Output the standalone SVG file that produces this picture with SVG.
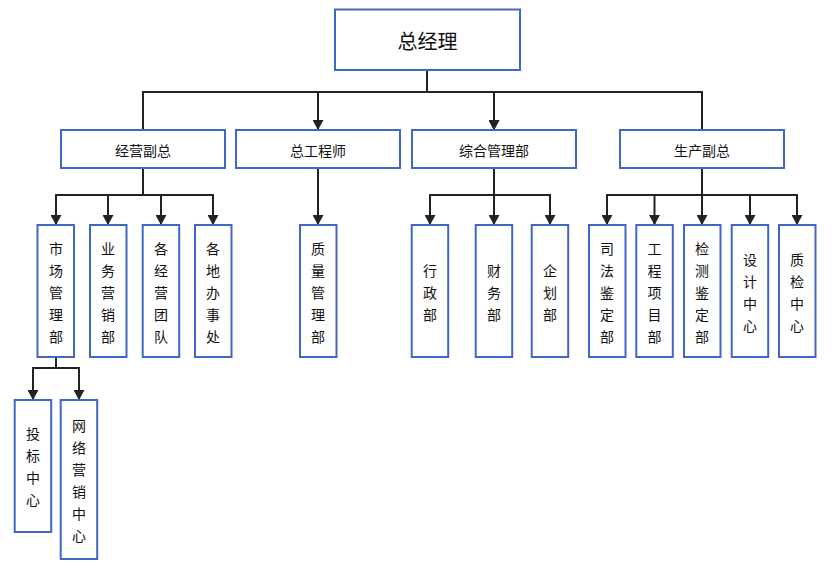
<svg xmlns="http://www.w3.org/2000/svg" width="838" height="570" viewBox="0 0 838 570">
<style>
.box{fill:#fff;stroke:#4167c4;stroke-width:2}
.t{font-family:"Noto Sans CJK SC","Liberation Sans",sans-serif;font-size:14px;fill:#111;text-anchor:middle;dominant-baseline:central}
.big{font-size:20px}
.ln{fill:none;stroke:#222;stroke-width:2}
</style>
<defs>
<marker id="ah" markerUnits="userSpaceOnUse" viewBox="0 0 10 11" refX="10" refY="5.5" markerWidth="10" markerHeight="11" orient="auto">
<path d="M0,0 L10,5.5 L0,11 z" fill="#222"/>
</marker>
</defs>
<g id="connectors">
<path class="ln" d="M427,70 V92 H143 V130 M318,92 V130 M427,92 H702 V130 M494,92 V130" marker-end="url(#ah)"/>
<path class="ln" d="M318,92 V130" marker-end="url(#ah)"/>
<path class="ln" d="M494,92 V130" marker-end="url(#ah)"/>
<path class="ln" d="M143,168 V195 H56 V225" marker-end="url(#ah)"/>
<path class="ln" d="M143,195 H213 V225" marker-end="url(#ah)"/>
<path class="ln" d="M108,195 V225" marker-end="url(#ah)"/>
<path class="ln" d="M161,195 V225" marker-end="url(#ah)"/>
<path class="ln" d="M318,168 V225" marker-end="url(#ah)"/>
<path class="ln" d="M494,168 V195 H430 V225" marker-end="url(#ah)"/>
<path class="ln" d="M494,168 V225" marker-end="url(#ah)"/>
<path class="ln" d="M494,195 H550 V225" marker-end="url(#ah)"/>
<path class="ln" d="M702,168 V195 H607 V225" marker-end="url(#ah)"/>
<path class="ln" d="M702,195 H797 V225" marker-end="url(#ah)"/>
<path class="ln" d="M654.5,195 V225" marker-end="url(#ah)"/>
<path class="ln" d="M702,168 V225" marker-end="url(#ah)"/>
<path class="ln" d="M750,195 V225" marker-end="url(#ah)"/>
<path class="ln" d="M56,357 V368 H33 V400" marker-end="url(#ah)"/>
<path class="ln" d="M56,368 H79 V400" marker-end="url(#ah)"/>
</g>
<g id="n-ceo"><rect class="box" x="335" y="9.5" width="185" height="60.5"/><text class="t big" x="427.5" y="40">总经理</text></g>
<g id="n-jyfz"><rect class="box" x="61" y="130" width="164" height="38"/><text class="t" x="143" y="150">经营副总</text></g>
<g id="n-zgcs"><rect class="box" x="236" y="130" width="164" height="38"/><text class="t" x="318" y="150">总工程师</text></g>
<g id="n-zhglb"><rect class="box" x="412" y="130" width="164" height="38"/><text class="t" x="494" y="150">综合管理部</text></g>
<g id="n-scfz"><rect class="box" x="620" y="130" width="164" height="38"/><text class="t" x="702" y="150">生产副总</text></g>

<g id="n-scglb"><rect class="box" x="37.5" y="225" width="36.5" height="132"/><text class="t" x="56" y="248"><tspan x="56">市</tspan><tspan x="56" dy="22">场</tspan><tspan x="56" dy="22">管</tspan><tspan x="56" dy="22">理</tspan><tspan x="56" dy="22">部</tspan></text></g>
<g id="n-ywyxb"><rect class="box" x="90" y="225" width="36.5" height="132"/><text class="t" x="108" y="248"><tspan x="108">业</tspan><tspan x="108" dy="22">务</tspan><tspan x="108" dy="22">营</tspan><tspan x="108" dy="22">销</tspan><tspan x="108" dy="22">部</tspan></text></g>
<g id="n-gjytd"><rect class="box" x="142.7" y="225" width="36.5" height="132"/><text class="t" x="161" y="248"><tspan x="161">各</tspan><tspan x="161" dy="22">经</tspan><tspan x="161" dy="22">营</tspan><tspan x="161" dy="22">团</tspan><tspan x="161" dy="22">队</tspan></text></g>
<g id="n-gdbsc"><rect class="box" x="195" y="225" width="36.5" height="132"/><text class="t" x="213" y="248"><tspan x="213">各</tspan><tspan x="213" dy="22">地</tspan><tspan x="213" dy="22">办</tspan><tspan x="213" dy="22">事</tspan><tspan x="213" dy="22">处</tspan></text></g>
<g id="n-zlglb"><rect class="box" x="300" y="225" width="36.5" height="132"/><text class="t" x="318" y="248"><tspan x="318">质</tspan><tspan x="318" dy="22">量</tspan><tspan x="318" dy="22">管</tspan><tspan x="318" dy="22">理</tspan><tspan x="318" dy="22">部</tspan></text></g>
<g id="n-xzb"><rect class="box" x="411.7" y="225" width="36.5" height="132"/><text class="t" x="430" y="270"><tspan x="430">行</tspan><tspan x="430" dy="22">政</tspan><tspan x="430" dy="22">部</tspan></text></g>
<g id="n-cwb"><rect class="box" x="475.7" y="225" width="36.5" height="132"/><text class="t" x="494" y="270"><tspan x="494">财</tspan><tspan x="494" dy="22">务</tspan><tspan x="494" dy="22">部</tspan></text></g>
<g id="n-qhb"><rect class="box" x="531.7" y="225" width="36.5" height="132"/><text class="t" x="550" y="270"><tspan x="550">企</tspan><tspan x="550" dy="22">划</tspan><tspan x="550" dy="22">部</tspan></text></g>
<g id="n-sfjdb"><rect class="box" x="589" y="225" width="36.5" height="132"/><text class="t" x="607" y="248"><tspan x="607">司</tspan><tspan x="607" dy="22">法</tspan><tspan x="607" dy="22">鉴</tspan><tspan x="607" dy="22">定</tspan><tspan x="607" dy="22">部</tspan></text></g>
<g id="n-gcxmb"><rect class="box" x="636.3" y="225" width="36.5" height="132"/><text class="t" x="654.5" y="248"><tspan x="654.5">工</tspan><tspan x="654.5" dy="22">程</tspan><tspan x="654.5" dy="22">项</tspan><tspan x="654.5" dy="22">目</tspan><tspan x="654.5" dy="22">部</tspan></text></g>
<g id="n-jcjdb"><rect class="box" x="684" y="225" width="36.5" height="132"/><text class="t" x="702" y="248"><tspan x="702">检</tspan><tspan x="702" dy="22">测</tspan><tspan x="702" dy="22">鉴</tspan><tspan x="702" dy="22">定</tspan><tspan x="702" dy="22">部</tspan></text></g>
<g id="n-sjzx"><rect class="box" x="731.7" y="225" width="36.5" height="132"/><text class="t" x="750" y="259"><tspan x="750">设</tspan><tspan x="750" dy="22">计</tspan><tspan x="750" dy="22">中</tspan><tspan x="750" dy="22">心</tspan></text></g>
<g id="n-zjzx"><rect class="box" x="779" y="225" width="36.5" height="132"/><text class="t" x="797" y="259"><tspan x="797">质</tspan><tspan x="797" dy="22">检</tspan><tspan x="797" dy="22">中</tspan><tspan x="797" dy="22">心</tspan></text></g>

<g id="n-tbzx"><rect class="box" x="14.7" y="400" width="36.5" height="132"/><text class="t" x="33" y="433"><tspan x="33">投</tspan><tspan x="33" dy="22">标</tspan><tspan x="33" dy="22">中</tspan><tspan x="33" dy="22">心</tspan></text></g>
<g id="n-wlyxzx"><rect class="box" x="60.7" y="400" width="36.5" height="159"/><text class="t" x="79" y="425"><tspan x="79">网</tspan><tspan x="79" dy="22">络</tspan><tspan x="79" dy="22">营</tspan><tspan x="79" dy="22">销</tspan><tspan x="79" dy="22">中</tspan><tspan x="79" dy="22">心</tspan></text></g>
</svg>
